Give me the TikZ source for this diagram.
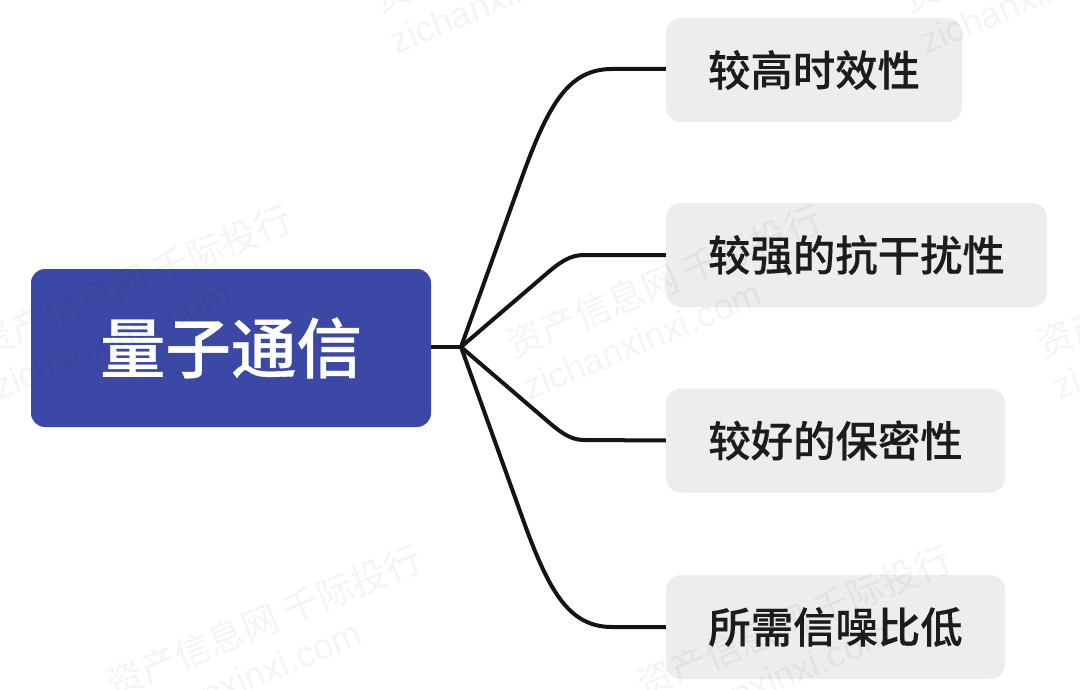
\documentclass[tikz,border=0pt]{standalone}
\usepackage{fontspec}
\newfontfamily\cjkmed[FakeBold=0.25]{Noto Sans CJK SC Medium}
\newfontfamily\cjkroot[FakeBold=0.5]{Noto Sans CJK SC Medium}
\newfontfamily\cjkreg{Noto Sans CJK SC}
\newfontfamily\latinwm{Liberation Sans}
\definecolor{rootblue}{HTML}{3B48A5}
\definecolor{leafgray}{HTML}{EDEDED}
\definecolor{inkdark}{HTML}{1C1C1C}
\tikzset{
  rootbox/.style={draw=none,fill=rootblue,rounded corners=14pt,text=white,inner sep=0pt,
    minimum width=400pt,minimum height=158pt,font=\cjkroot\fontsize{65.5pt}{72pt}\selectfont},
  leafbox/.style={draw=none,fill=leafgray,rounded corners=15pt,text=inkdark,inner sep=0pt,
    minimum height=104pt,font=\cjkmed\fontsize{42.4pt}{48pt}\selectfont},
  link/.style={draw=black!92,line width=4pt,line join=round},
  wmcn/.style={rotate=22.5,text=black,opacity=0.045,inner sep=0pt,font=\cjkreg\fontsize{36.5pt}{38pt}\selectfont},
  wmen/.style={rotate=22.5,text=black,opacity=0.045,inner sep=0pt,font=\latinwm\fontsize{36pt}{38pt}\selectfont},
}
\begin{document}
\begin{tikzpicture}[x=1pt,y=-1pt]
\useasboundingbox (0,0) rectangle (1080,690);
\clip (0,0) rectangle (1080,690);
\fill[white] (0,0) rectangle (1080,690);
\node[rootbox] (root) at (231,348) {量子通信};
\node[leafbox,minimum width=296pt] (a) at (814,70) {较高时效性};
\node[leafbox,minimum width=381pt] (b) at (856.5,255) {较强的抗干扰性};
\node[leafbox,minimum width=339pt] (c) at (835.5,440.5) {较好的保密性};
\node[leafbox,minimum width=339pt] (d) at (835.5,627) {所需信噪比低};
\coordinate (hub) at (461,347);
\draw[link] (root.east |- hub) -- (hub);
\draw[link] (hub) -- (521,180) .. controls (548,105) and (568,69) .. (612,69) -- (a.west |- 0,69);
\draw[link] (hub) -- (545,275) .. controls (560,262) and (570,255) .. (584,255) -- (b.west);
\draw[link] (hub) -- (545,419) .. controls (560,432) and (570,440) .. (584,440) -- (c.west);
\draw[link] (hub) -- (521,514) .. controls (548,590) and (568,627) .. (612,627) -- (d.west);
% watermarks
\foreach \n/\cx/\cy in {p/134/281,q/664/281,r/264/621,s/794/621,t/531/-65,u/1061/-65,v/1194/281}{
  \node[wmcn] (wmcn\n) at (\cx,\cy) {资产信息网 千际投行};
  \node[wmen] (wmen\n) at (\cx-22,\cy+59) {zichanxinxi.com};
}
\end{tikzpicture}
\end{document}
